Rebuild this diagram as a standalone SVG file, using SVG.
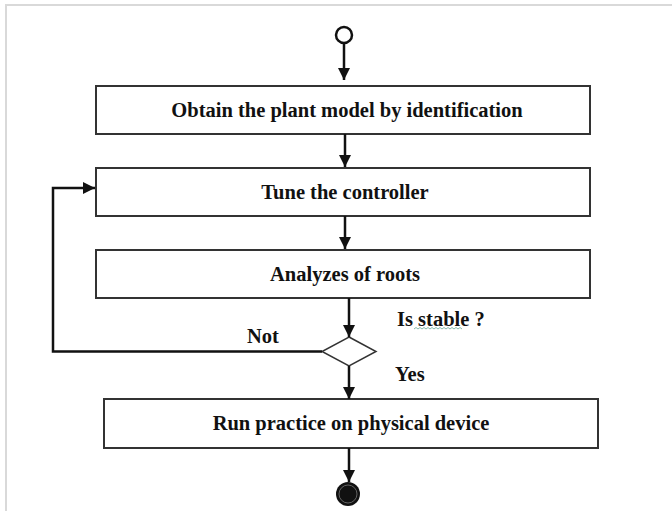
<svg xmlns="http://www.w3.org/2000/svg" width="672" height="511" viewBox="0 0 672 511">
<defs>
<style>
.box{fill:#fff;stroke:#333;stroke-width:2}
.t{font-family:"Liberation Serif","Times New Roman",serif;font-weight:bold;font-size:20.5px;fill:#111;text-anchor:middle}
.l{font-family:"Liberation Serif","Times New Roman",serif;font-weight:bold;font-size:20.5px;fill:#111}
.c{fill:none;stroke:#111;stroke-width:2.5}
</style>
<marker id="ah" viewBox="0 0 10 10" refX="10" refY="5" markerWidth="5" markerHeight="5" markerUnits="strokeWidth" orient="auto">
<path d="M0,0 L10,5 L0,10 z" fill="#111"/>
</marker>
</defs>
<rect width="672" height="511" fill="#fff"/>
<path d="M6,511 V5 H672" fill="none" stroke="#d9d9d9" stroke-width="2"/>
<g id="start"><circle cx="344" cy="35" r="8" fill="#fff" stroke="#111" stroke-width="2.5"/></g>
<g id="n1"><rect class="box" x="96" y="86" width="494" height="48"/><text class="t" x="347" y="117">Obtain the plant model by identification</text></g>
<g id="n2"><rect class="box" x="96" y="168" width="494" height="48"/><text class="t" x="345" y="199">Tune the controller</text></g>
<g id="n3"><rect class="box" x="96" y="250" width="494" height="48"/><text class="t" x="345" y="281">Analyzes of roots</text></g>
<g id="decision"><polygon points="349,337 376,351.5 349,366 322,351.5" fill="#fff" stroke="#333" stroke-width="1.5"/></g>
<g id="n4"><rect class="box" x="104" y="399" width="494" height="49"/><text class="t" x="351" y="430">Run practice on physical device</text></g>
<g id="end"><circle cx="348" cy="494" r="12" fill="#111"/><circle cx="348" cy="494" r="9" fill="none" stroke="#777" stroke-width="0.8"/></g>
<g id="connectors">
<line class="c" x1="344" y1="43" x2="344" y2="80" marker-end="url(#ah)"/>
<line class="c" x1="345" y1="134" x2="345" y2="167" marker-end="url(#ah)"/>
<line class="c" x1="345" y1="216" x2="345" y2="249" marker-end="url(#ah)"/>
<line class="c" x1="349" y1="298" x2="349" y2="337" marker-end="url(#ah)"/>
<line class="c" x1="349" y1="366" x2="349" y2="399" marker-end="url(#ah)"/>
<line class="c" x1="349" y1="448" x2="349" y2="482" marker-end="url(#ah)"/>
<polyline class="c" points="322,351.5 53,351.5 53,188 95,188" marker-end="url(#ah)"/>
</g>
<g id="labels">
<text class="l" x="397" y="326">Is stable ?</text>
<path d="M414,329 l2,-1.5 2,1.5 2,-1.5 2,1.5 2,-1.5 2,1.5 2,-1.5 2,1.5 2,-1.5 2,1.5 2,-1.5 2,1.5 2,-1.5 2,1.5 2,-1.5 2,1.5 2,-1.5 2,1.5 2,-1.5 2,1.5 2,-1.5 2,1.5 2,-1.5 2,1.5" fill="none" stroke="#6a9" stroke-width="0.8"/>
<text class="l" x="247" y="343">Not</text>
<text class="l" x="395" y="381">Yes</text>
</g>
</svg>
